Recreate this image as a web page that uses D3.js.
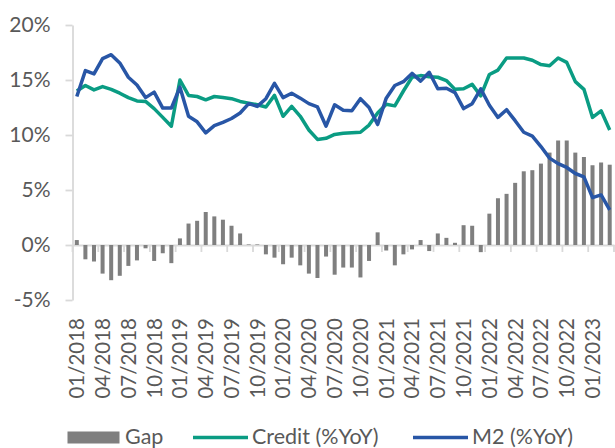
<!DOCTYPE html>
<html>
<head>
<meta charset="utf-8">
<script src="https://cdn.jsdelivr.net/npm/d3@7"></script>
<style>
  html, body { margin: 0; padding: 0; background: #fff; }
  svg { display: block; }
  text { font-family: Lato, "Open Sans", sans-serif; fill: #595959; }
</style>
</head>
<body>
<svg id="chart" width="615" height="448"></svg>
<script>
const categories = [
  "01/2018","02/2018","03/2018","04/2018","05/2018","06/2018","07/2018","08/2018","09/2018","10/2018","11/2018","12/2018",
  "01/2019","02/2019","03/2019","04/2019","05/2019","06/2019","07/2019","08/2019","09/2019","10/2019","11/2019","12/2019",
  "01/2020","02/2020","03/2020","04/2020","05/2020","06/2020","07/2020","08/2020","09/2020","10/2020","11/2020","12/2020",
  "01/2021","02/2021","03/2021","04/2021","05/2021","06/2021","07/2021","08/2021","09/2021","10/2021","11/2021","12/2021",
  "01/2022","02/2022","03/2022","04/2022","05/2022","06/2022","07/2022","08/2022","09/2022","10/2022","11/2022","12/2022",
  "01/2023","02/2023","03/2023"
];
const credit = [14.0,14.5,14.1,14.4,14.15,13.8,13.4,13.1,13.05,12.4,
  11.6,10.8,15.0,13.6,13.5,13.2,13.5,13.4,13.3,13.05,
  12.9,12.75,12.55,13.6,11.7,12.6,11.7,10.45,9.6,9.7,
  10.05,10.15,10.2,10.25,10.9,12.0,12.8,12.65,14.0,15.25,
  15.4,15.3,15.25,14.95,14.15,14.2,14.6,13.55,15.5,15.9,
  17.0,17.0,17.0,16.8,16.4,16.3,17.0,16.6,14.85,14.15,
  11.6,12.2,10.45];
const m2 = [13.5,15.85,15.55,16.95,17.3,16.55,15.25,14.55,13.4,13.9,
  12.45,12.45,14.35,11.7,11.2,10.2,10.85,11.15,11.5,12.0,
  12.85,12.6,13.3,14.7,13.4,13.8,13.35,12.85,12.55,10.8,
  12.75,12.25,12.2,13.3,12.5,10.95,13.35,14.5,14.85,15.6,
  14.9,15.7,14.2,14.25,13.85,12.4,12.85,14.2,12.7,11.6,
  12.3,11.3,10.25,9.9,8.95,7.9,7.4,7.05,6.5,6.2,
  4.3,4.55,3.2];
const gap = [0.45,-1.3,-1.5,-2.6,-3.2,-2.8,-1.9,-1.4,-0.3,-1.45,
  -0.75,-1.65,0.6,1.95,2.2,3.0,2.6,2.3,1.75,1.05,
  0.05,0.05,-0.85,-1.15,-1.75,-1.15,-1.85,-2.6,-3.0,-1.05,
  -2.7,-2.05,-2.05,-2.95,-1.45,1.15,-0.5,-1.85,-0.85,-0.4,
  0.45,-0.55,1.05,0.65,0.2,1.8,1.75,-0.65,2.85,4.25,
  4.65,5.65,6.7,6.8,7.4,8.4,9.5,9.5,8.4,8.0,
  7.25,7.5,7.3];
const yTicks = [-5, 0, 5, 10, 15, 20];
const xTickLabels = categories.filter((d, i) => i % 3 === 0);
const seriesNames = ["Gap", "Credit (%YoY)", "M2 (%YoY)"];

(function () {
const colors = { gap: "#7f7f7f", credit: "#0a9c83", m2: "#2856a6", axis: "#d9d9d9" };
const svg = d3.select("#chart");
const pLeft = 72.5, pRight = 614, pTop = 25, pBottom = 300;

const x = d3.scaleBand().domain(categories).range([pLeft, pRight]).padding(0);
const y = d3.scaleLinear().domain([-5, 20]).range([pBottom, pTop]);
const bw = x.bandwidth();
const barW = 4;
const cx = d => x(d) + bw / 2;

// Y axis
const yAxis = svg.append("g")
  .attr("transform", `translate(${pLeft},0)`)
  .call(d3.axisLeft(y).tickValues(yTicks).tickFormat(d => d + "%")
    .tickSizeInner(7).tickSizeOuter(0).tickPadding(15));
yAxis.select(".domain").attr("stroke", colors.axis).attr("stroke-width", 1.8);
yAxis.selectAll(".tick line").attr("stroke", colors.axis).attr("stroke-width", 1.8);
yAxis.selectAll(".tick text").style("font-size", "21px").style("font-family", "Lato").attr("fill", "#595959");

// X axis line at zero
const xAxis = svg.append("g")
  .attr("transform", `translate(0,${y(0)})`)
  .call(d3.axisBottom(x).tickValues([]).tickSizeOuter(0));
xAxis.select(".domain").attr("stroke", colors.axis).attr("stroke-width", 1.8);

// tick marks at category boundaries every 3 months
const bIdx = d3.range(0, categories.length + 1, 3);
const bx = i => i < categories.length ? x(categories[i]) : x(categories[i - 1]) + bw;
svg.append("g").selectAll("line").data(bIdx).join("line")
  .attr("x1", bx).attr("x2", bx)
  .attr("y1", y(0)).attr("y2", y(0) + 7)
  .attr("stroke", colors.axis).attr("stroke-width", 1.8);

// X labels (rotated)
svg.append("g").selectAll("text").data(xTickLabels).join("text")
  .attr("transform", d => `translate(${cx(d)},318) rotate(-90)`)
  .attr("text-anchor", "end")
  .attr("dy", "0.36em")
  .style("font-size", "20.5px")
  .text(d => d);

// Bars
svg.append("g").selectAll("rect").data(categories).join("rect")
  .attr("x", d => cx(d) - barW / 2)
  .attr("width", barW)
  .attr("y", (d, i) => Math.min(y(gap[i]), y(0)))
  .attr("height", (d, i) => Math.abs(y(gap[i]) - y(0)))
  .attr("fill", colors.gap);

// Lines
const line = vals => d3.line().x((d, i) => cx(categories[i])).y(d => y(d))(vals);
svg.append("path").attr("d", line(credit)).attr("fill", "none")
  .attr("stroke", colors.credit).attr("stroke-width", 3.5).attr("stroke-linejoin", "round");
svg.append("path").attr("d", line(m2)).attr("fill", "none")
  .attr("stroke", colors.m2).attr("stroke-width", 3.5).attr("stroke-linejoin", "round");

// Legend
const lg = svg.append("g");
lg.append("rect").attr("x", 67.5).attr("y", 431.5).attr("width", 52).attr("height", 12).attr("fill", colors.gap);
lg.append("text").attr("x", 125).attr("y", 444).style("font-size", "21.5px").text(seriesNames[0]);
lg.append("line").attr("x1", 193).attr("x2", 248).attr("y1", 437.5).attr("y2", 437.5)
  .attr("stroke", colors.credit).attr("stroke-width", 3.5);
lg.append("text").attr("x", 252).attr("y", 444).style("font-size", "21.5px").text(seriesNames[1]);
lg.append("line").attr("x1", 413).attr("x2", 468).attr("y1", 437.5).attr("y2", 437.5)
  .attr("stroke", colors.m2).attr("stroke-width", 3.5);
lg.append("text").attr("x", 472).attr("y", 444).style("font-size", "21.5px").text(seriesNames[2]);
})();
</script>
</body>
</html>
